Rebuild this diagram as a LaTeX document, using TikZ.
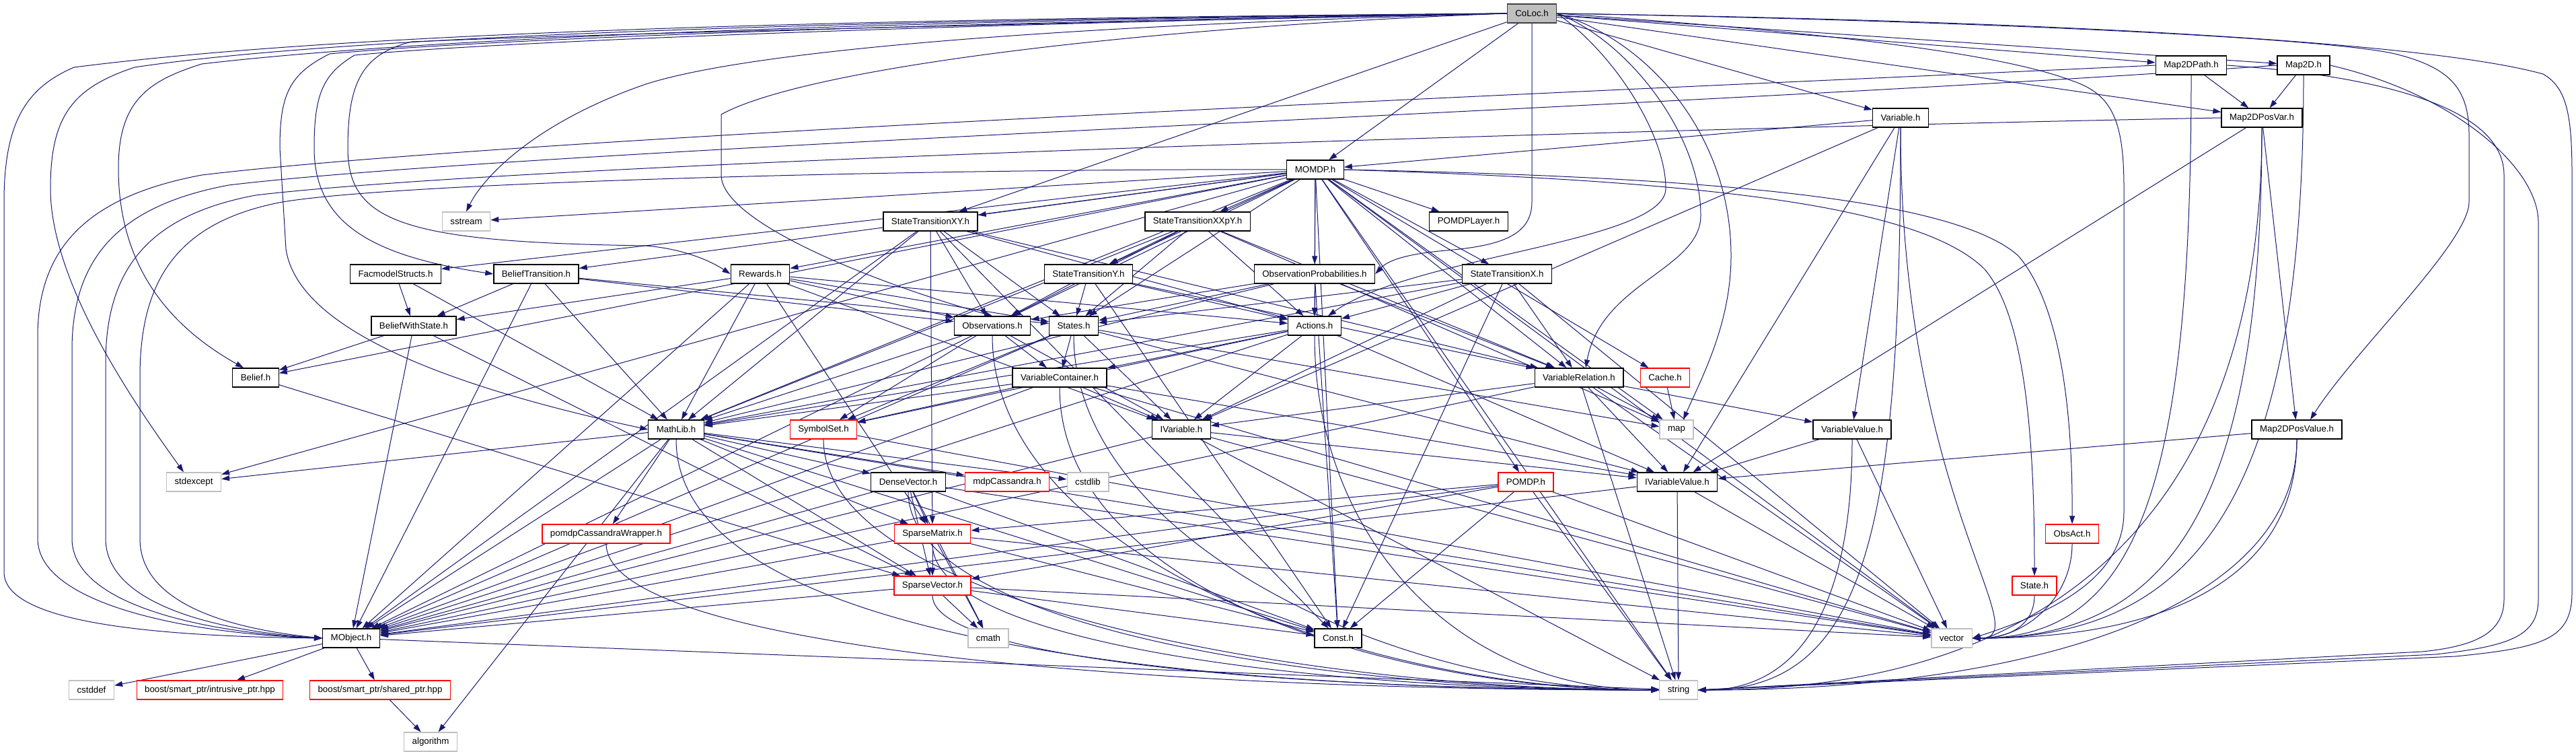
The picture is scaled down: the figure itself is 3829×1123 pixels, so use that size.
\documentclass[tikz,border=0pt]{standalone}
\usepackage{fontspec}
\setmainfont{Liberation Sans}
\usetikzlibrary{arrows.meta,backgrounds}
\definecolor{edgecol}{RGB}{25,25,112}
\definecolor{sysgray}{RGB}{191,191,191}
\tikzset{
  nd/.style={draw=black, line width=1.3pt, fill=white, rectangle, minimum height=28pt,
    inner xsep=12pt, inner ysep=0pt, font=\fontsize{13.3}{15}\selectfont},
  rednd/.style={nd, draw=red},
  sysnd/.style={nd, draw=sysgray},
  rootnd/.style={nd, fill=sysgray, draw=black!75},
  dep/.style={-{Triangle[length=12pt,width=8pt]}, draw=edgecol, line width=1pt}
}
\begin{document}
\begin{tikzpicture}[x=1pt,y=-1pt]
\useasboundingbox (0,0) rectangle (3829,1123);
% nodes
\node[rootnd] (coloc) at (2277,20) {CoLoc.h};
\node[nd] (m2dpath) at (3257,97) {Map2DPath.h};
\node[nd] (m2d) at (3424,97) {Map2D.h};
\node[nd] (var) at (2825,175) {Variable.h};
\node[nd] (m2dposvar) at (3362,175) {Map2DPosVar.h};
\node[nd] (momdp) at (1955,252) {MOMDP.h};
\node[sysnd] (sstream) at (693,329) {sstream};
\node[nd] (stxy) at (1383,329) {StateTransitionXY.h};
\node[nd] (stxxpy) at (1780,329) {StateTransitionXXpY.h};
\node[nd] (pomdplayer) at (2183,329) {POMDPLayer.h};
\node[nd] (facmodel) at (588,407) {FacmodelStructs.h};
\node[nd] (beltrans) at (797,407) {BeliefTransition.h};
\node[nd] (rewards) at (1130,407) {Rewards.h};
\node[nd] (sty) at (1618,407) {StateTransitionY.h};
\node[nd] (obsprob) at (1954,407) {ObservationProbabilities.h};
\node[nd] (stx) at (2240,407) {StateTransitionX.h};
\node[nd] (belws) at (615,484) {BeliefWithState.h};
\node[nd] (obs) at (1475,484) {Observations.h};
\node[nd] (states) at (1596,484) {States.h};
\node[nd] (actions) at (1954,484) {Actions.h};
\node[nd] (belief) at (380,561) {Belief.h};
\node[nd] (varcont) at (1575,561) {VariableContainer.h};
\node[nd] (varrel) at (2347,561) {VariableRelation.h};
\node[rednd] (cache) at (2475,561) {Cache.h};
\node[nd] (mathlib) at (1005,638) {MathLib.h};
\node[rednd] (symset) at (1224,638) {SymbolSet.h};
\node[nd] (ivar) at (1756,638) {IVariable.h};
\node[sysnd] (map) at (2492,638) {map};
\node[nd] (varval) at (2753,638) {VariableValue.h};
\node[nd] (m2dposval) at (3414,638) {Map2DPosValue.h};
\node[sysnd] (stdexcept) at (288,716) {stdexcept};
\node[nd] (densevec) at (1350,716) {DenseVector.h};
\node[rednd] (mdpcass) at (1497,716) {mdpCassandra.h};
\node[sysnd] (cstdlib) at (1617,716) {cstdlib};
\node[rednd] (pomdp) at (2268,716) {POMDP.h};
\node[nd] (ivarval) at (2493,716) {IVariableValue.h};
\node[rednd] (pcw) at (901,793) {pomdpCassandraWrapper.h};
\node[rednd] (spmat) at (1386,793) {SparseMatrix.h};
\node[rednd] (obsact) at (3080,793) {ObsAct.h};
\node[rednd] (spvec) at (1386,870) {SparseVector.h};
\node[rednd] (state) at (3024,870) {State.h};
\node[nd] (mobject) at (522,948) {MObject.h};
\node[sysnd] (cmath) at (1469,948) {cmath};
\node[nd] (const) at (1989,948) {Const.h};
\node[sysnd] (vector) at (2901,948) {vector};
\node[sysnd] (cstddef) at (136,1025) {cstddef};
\node[rednd] (intrusive) at (312,1025) {boost/smart\_ptr/intrusive\_ptr.hpp};
\node[rednd] (shared) at (565,1025) {boost/smart\_ptr/shared\_ptr.hpp};
\node[sysnd] (string) at (2495,1025) {string};
\node[sysnd] (algorithm) at (640,1102) {algorithm};

\begin{pgfonlayer}{background}
\fill[white] (0,0) rectangle (3829,1123);
% routed edges from CoLoc.h
\draw[dep] (coloc.west) .. controls (1200,28) and (500,50) .. (110,100) .. controls (40,130) and (6,180) .. (6,300) -- (6,850) .. controls (6,920) and (200,945) .. (mobject.west);
\draw[dep] (coloc.west) .. controls (1200,30) and (500,55) .. (200,100) .. controls (110,130) and (75,170) .. (75,280) .. controls (75,420) and (200,600) .. ([xshift=-15pt]stdexcept.north);
\draw[dep] (coloc.west) .. controls (1200,32) and (600,60) .. (300,95) .. controls (220,120) and (176,150) .. (176,250) .. controls (176,420) and (280,500) .. ([xshift=-18pt]belief.north);
\draw[dep] (coloc.west) .. controls (1300,35) and (700,60) .. (490,80) .. controls (430,110) and (416,140) .. (416,220) -- (425,370) .. controls (440,470) and (600,560) .. (mathlib.west);
\draw[dep] (coloc.west) .. controls (1300,38) and (700,65) .. (527,82) .. controls (480,110) and (467,140) .. (467,220) .. controls (467,330) and (550,380) .. (beltrans.west);
\draw[dep] (coloc.west) .. controls (1400,38) and (900,50) .. (612,62) .. controls (540,80) and (517,120) .. (517,220) .. controls (517,330) and (600,360) .. (960,365) .. controls (1020,370) and (1060,390) .. (rewards.west);
\draw[dep] (coloc.west) .. controls (1500,40) and (1100,80) .. (960,125) .. controls (800,180) and (720,260) .. (sstream.north);
\draw[dep] (coloc.west) .. controls (1700,40) and (1200,100) .. (1072,170) -- (1072,260) .. controls (1072,330) and (1300,420) .. (obs.north);
\draw[dep] (coloc.east) .. controls (3000,30) and (3600,60) .. (3780,110) .. controls (3815,130) and (3823,170) .. (3823,260) -- (3823,880) .. controls (3823,950) and (3780,962) .. (3650,975) -- (string.east);
\draw[dep] (coloc.east) .. controls (2900,30) and (3450,55) .. (3560,80) .. controls (3640,100) and (3670,130) .. (3670,200) -- (3670,300) .. controls (3670,360) and (3500,520) .. ([xshift=20pt]m2dposval.north);
\draw[dep] (coloc.east) .. controls (2600,40) and (2950,70) .. (3080,120) .. controls (3140,140) and (3157,180) .. (3157,280) -- (3157,760) .. controls (3157,860) and (3050,910) .. (vector.east);
\draw[dep] (coloc.east) .. controls (2450,60) and (2573,200) .. (2573,380) .. controls (2573,480) and (2530,560) .. ([xshift=10pt]map.north);
\draw[dep] (coloc.east) .. controls (2420,60) and (2528,200) .. (2528,320) .. controls (2528,400) and (2380,420) .. ([xshift=10pt]varrel.north);
\draw[dep] (coloc.east) .. controls (2400,80) and (2476,200) .. (2476,280) .. controls (2476,360) and (2100,380) .. ([xshift=20pt]actions.north);
\draw[dep] (coloc.south) -- (2277,300) .. controls (2277,350) and (2230,365) .. (2150,372) .. controls (2080,378) and (2060,390) .. (obsprob.east);
% routed edges on the right side
\draw[dep] (m2dpath.east) .. controls (3500,110) and (3722,150) .. (3722,260) -- (3722,890) .. controls (3722,940) and (3680,960) .. (3600,968) -- (string.east);
\draw[dep] (m2d.east) .. controls (3650,140) and (3773,250) .. (3773,330) -- (3773,890) .. controls (3773,945) and (3730,960) .. (3620,972) -- (string.east);
% MOMDP.h to the far right
\draw[dep] (momdp.east) .. controls (2500,262) and (2900,290) .. (3000,380) .. controls (3060,450) and (3081,600) .. (obsact.north);
\draw[dep] (momdp.east) .. controls (2500,268) and (2850,300) .. (2950,400) .. controls (3010,470) and (3024,650) .. (state.north);
% routed edges to MObject.h round the left
\draw[dep] (momdp.west) .. controls (1400,250) and (600,270) .. (420,300) .. controls (260,330) and (208,420) .. (208,560) -- (208,800) .. controls (208,900) and (350,935) .. (mobject.west);
\draw[dep] (m2dposvar.west) .. controls (2500,190) and (800,240) .. (380,290) .. controls (220,320) and (157,400) .. (157,540) -- (157,800) .. controls (157,900) and (330,938) .. (mobject.west);
\draw[dep] (m2d.west) .. controls (2500,160) and (800,220) .. (340,275) .. controls (180,305) and (107,380) .. (107,520) -- (107,800) .. controls (107,900) and (310,940) .. (mobject.west);
\draw[dep] (m2dpath.west) .. controls (2500,130) and (800,200) .. (300,260) .. controls (140,290) and (56,360) .. (56,500) -- (56,800) .. controls (56,900) and (290,942) .. (mobject.west);
% edges into string from the left, running along the bottom
\foreach \s/\a/\b in {symset/250/500, densevec/200/500, spmat/150/500, spvec/100/500, pcw/150/800,
  mathlib/300/700, varcont/300/400, obs/320/450, states/300/400, actions/300/300}
 \draw[dep] (\s.south) .. controls +(0,\a) and +(-\b,0) .. (string.west);
% edges into string and vector from the right
\foreach \s/\a/\b in {var/600/250, varval/250/150, m2dposval/250/500, m2dposvar/600/500}
 \draw[dep] (\s.south) .. controls +(0,\a) and +(\b,0) .. (string.east);
\foreach \s/\a/\b in {m2dpath/600/250, m2d/600/350, m2dposvar/550/300, m2dposval/200/300,
  obsact/80/80, state/40/60, var/550/100}
 \draw[dep] (\s.south) .. controls +(0,\a) and +(\b,0) .. (vector.east);
% straight edges
\foreach \s/\t in {
 coloc/momdp, coloc/m2dpath, coloc/m2d, coloc/m2dposvar, coloc/var, coloc/stxy,
 momdp/sstream, momdp/stdexcept, momdp/belief, momdp/beltrans, momdp/facmodel, momdp/rewards,
 momdp/stxy, momdp/stxxpy, momdp/sty, momdp/stx, momdp/obsprob, momdp/pomdplayer, momdp/obs,
 momdp/states, momdp/actions, momdp/mathlib, momdp/cache, momdp/varrel, momdp/map, momdp/pomdp,
 momdp/const, momdp/vector, momdp/string,
 m2dpath/m2dposvar, m2d/m2dposvar,
 m2dposvar/m2dposval, m2dposvar/ivarval,
 var/momdp, var/varval, var/ivarval, var/ivar,
 facmodel/belws, facmodel/mathlib,
 beltrans/belws, beltrans/mobject, beltrans/obs, beltrans/states, beltrans/mathlib,
 belws/belief, belws/mobject, belws/spvec, belief/spvec,
 rewards/belws, rewards/obs, rewards/states, rewards/actions, rewards/mathlib, rewards/ivar, rewards/mobject, rewards/spmat,
 stxy/obs, stxy/states, stxy/actions, stxy/mathlib, stxy/varrel, stxy/spmat, stxy/const, stxy/mobject,
 stxxpy/sty, stxxpy/obs, stxxpy/states, stxxpy/actions, stxxpy/varrel, stxxpy/mathlib, stxxpy/map,
 sty/obs, sty/states, sty/actions, sty/const, sty/varrel,
 stx/states, stx/actions, stx/varrel, stx/ivar, stx/const, stx/vector, stx/mathlib,
 obsprob/actions, obsprob/states, obsprob/obs, obsprob/varrel, obsprob/const, obsprob/mathlib,
 obs/varcont, obs/ivar, obs/symset, obs/mathlib, obs/mobject,
 states/varcont, states/ivar, states/symset, states/mobject, states/map, states/ivarval,
 actions/varcont, actions/ivar, actions/symset, actions/mathlib, actions/mobject, actions/ivarval,
 varcont/ivar, varcont/symset, varcont/mathlib, varcont/mobject, varcont/vector, varcont/ivarval,
 varrel/map, varrel/ivar, varrel/ivarval, varrel/varval, varrel/mobject, varrel/string, varrel/vector,
 cache/map, ivar/ivarval, ivar/mobject, ivar/string, ivar/vector,
 ivarval/mobject, ivarval/string, ivarval/vector,
 varval/ivarval, varval/vector,
 m2dposval/ivarval,
 mathlib/stdexcept, mathlib/densevec, mathlib/spvec, mathlib/spmat, mathlib/mdpcass, mathlib/cstdlib,
 mathlib/pcw, mathlib/algorithm, mathlib/const, mathlib/mobject, mathlib/vector,
 symset/vector,
 densevec/spmat, densevec/spvec, densevec/cmath, densevec/const, densevec/mobject, densevec/vector,
 spmat/spvec, spmat/mobject, spmat/cmath, spmat/vector, spmat/const,
 spvec/cmath, spvec/const, spvec/mobject, spvec/vector,
 pomdp/spmat, pomdp/spvec, pomdp/const, pomdp/mobject, pomdp/vector, pomdp/string,
 mobject/cstddef, mobject/intrusive, mobject/shared, mobject/string, shared/algorithm}
 \draw[dep] (\s) -- (\t);
\end{pgfonlayer}
\end{tikzpicture}
\end{document}
